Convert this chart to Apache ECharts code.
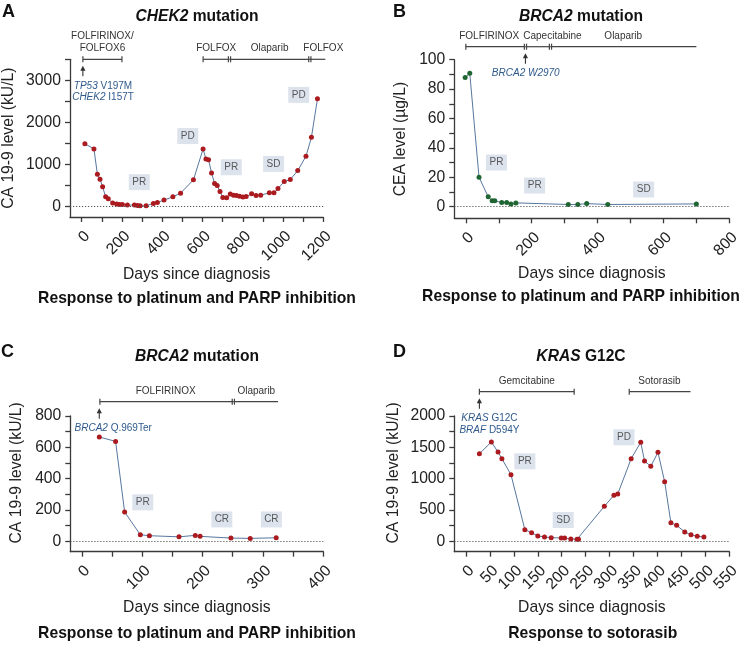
<!DOCTYPE html>
<html><head><meta charset="utf-8">
<script src="https://cdn.jsdelivr.net/npm/echarts@6/dist/echarts.min.js"></script>
<style>html,body{margin:0;padding:0;background:#fff}#c{width:742px;height:645px}</style>
</head><body><div id="c"></div>
<script>
// ---------- DATA ----------
// Panel A: CHEK2 mutation, CA 19-9 (kU/L)
const aDays = [16,61,78,91,104,119,132,154,174,187,202,227,262,277,290,320,356,376,409,453,491,555,603,617,630,645,660,673,687,701,720,738,754,769,784,801,817,844,866,889,932,955,975,1006,1036,1073,1114,1141,1171];
const aVals = [1493,1367,768,649,467,230,182,80,57,47,47,33,33,24,17,17,71,95,152,230,317,633,1367,1130,1114,799,545,498,355,213,206,294,270,261,246,223,237,301,261,270,325,325,427,592,640,853,1194,1644,2559];
const aResp = [[286,578,'PR'],[527,1675,'PD'],[743,933,'PR'],[953,1012,'SD'],[1078,2654,'PD']];
const aTreatStart = [6,603,734,1133];
const aTreatEnd = [200,734,1133,1210];
const aTreatNames = ['FOLFIRINOX/\nFOLFOX6','FOLFOX','Olaparib','FOLFOX'];
const aTreatLabelDay = [103,668,933,1200];
const aTreatStartTick = [1,1,2,2];
const aTreatEndTick = [1,0,0,0];
const aMutation = {arrowDay:6, textDay:106, text:'{i|TP53}{n| V197M}\n{i|CHEK2}{n| I157T}'};
const aXTicks = [0,100,200,300,400,500,600,700,800,900,1000,1100,1200];
const aXLabels = [0,200,400,600,800,1000,1200];
const aYTicks = [0,500,1000,1500,2000,2500,3000,3500];
const aYLabels = [0,1000,2000,3000];

// Panel B: BRCA2 mutation, CEA (ug/L)
const bDays = [-2,12,40,68,80,88,109,124,137,152,311,340,367,431,700];
const bVals = [87.8,90.7,20,6.6,3.9,3.9,2.7,2.7,1.8,2.5,1.4,1.4,2.0,1.4,1.8];
const bResp = [[93,30,'PR'],[209,14.3,'PR'],[540,11.6,'SD']];
const bTreatStart = [0,181,257];
const bTreatEnd = [181,257,700];
const bTreatNames = ['FOLFIRINOX','Capecitabine','Olaparib'];
const bTreatLabelDay = [71,263,478];
const bTreatStartTick = [1,2,2];
const bTreatEndTick = [0,0,0];
const bMutation = {arrowDay:181, textDay:182, text:'{i|BRCA2 W2970}'};
const bXTicks = [0,100,200,300,400,500,600,700,800];
const bXLabels = [0,200,400,600,800];
const bYTicks = [0,10,20,30,40,50,60,70,80,90,100];
const bYLabels = [0,20,40,60,80,100];

// Panel C: BRCA2 mutation, CA 19-9 (kU/L)
const cDays = [29,56,71,97,112,161,188,196,247,279,322];
const cVals = [666,638,187,42,36,29,38,32,21,19,23];
const cResp = [[101,249,'PR'],[232,140,'CR'],[314,140,'CR']];
const cTreatStart = [30,251];
const cTreatEnd = [251,325];
const cTreatNames = ['FOLFIRINOX','Olaparib'];
const cTreatLabelDay = [139,289];
const cTreatStartTick = [1,2];
const cTreatEndTick = [0,0];
const cMutation = {arrowDay:29, textDay:52, text:'{i|BRCA2}{n| Q.969Ter}'};
const cXTicks = [0,50,100,150,200,250,300,350,400];
const cXLabels = [0,100,200,300,400];
const cYTicks = [0,100,200,300,400,500,600,700,800];
const cYLabels = [0,200,400,600,800];

// Panel D: KRAS G12C, CA 19-9 (kU/L)
const dDays = [28,53,67,75,94,123,137,150,164,178,199,206,219,232,235,289,309,317,345,365,373,386,401,415,428,440,457,470,483,497];
const dVals = [1398,1584,1425,1318,1063,186,138,85,69,58,53,53,37,32,32,558,734,755,1318,1580,1281,1197,1420,951,297,255,148,105,80,69];
const dResp = [[123,1276,'PR'],[203,340,'SD'],[330,1660,'PD']];
const dTreatStart = [28,341];
const dTreatEnd = [226,469];
const dTreatNames = ['Gemcitabine','Sotorasib'];
const dTreatLabelDay = [127,404];
const dTreatStartTick = [1,1];
const dTreatEndTick = [1,0];
const dMutation = {arrowDay:28, textDay:49, text:'{i|KRAS}{n| G12C}\n{i|BRAF}{n| D594Y}'};
const dXTicks = [0,50,100,150,200,250,300,350,400,450,500,550];
const dXLabels = [0,50,100,150,200,250,300,350,400,450,500,550];
const dYTicks = [0,250,500,750,1000,1250,1500,1750,2000];
const dYLabels = [0,500,1000,1500,2000];

// ---------- STYLE / LAYOUT ----------
const FF = '"Liberation Sans", Arial, Helvetica, sans-serif';
const AX = '#3a3a3a';
const TXT = '#222';
const LINEC = '#56779f';
const RED = '#aa1a1e';
const GREEN = '#1e6532';
const BLUE = '#2e5a8c';
const BOX = '#d4dce7';

const panels = [
  {grid:{left:70, top:59.3, width:253.3, height:157.7}, xmin:-58, xmax:1200, ymin:-250, ymax:3500, barOff:0,
   days:aDays, vals:aVals, resp:aResp, color:RED, yName:'CA 19-9 level (kU/L)', yGap:53, yPad:0,
   xT:aXTicks, xL:aXLabels, yT:aYTicks, yL:aYLabels,
   T:{start:aTreatStart,end:aTreatEnd,names:aTreatNames,labelDay:aTreatLabelDay,st:aTreatStartTick,et:aTreatEndTick}, M:aMutation},
  {grid:{left:454.3, top:59.7, width:275, height:158.6}, xmin:-35, xmax:800, ymin:-8, ymax:100, barOff:13,
   days:bDays, vals:bVals, resp:bResp, color:GREEN, yName:'CEA level (µg/L)', yGap:46, yPad:0,
   xT:bXTicks, xL:bXLabels, yT:bYTicks, yL:bYLabels,
   T:{start:bTreatStart,end:bTreatEnd,names:bTreatNames,labelDay:bTreatLabelDay,st:bTreatStartTick,et:bTreatEndTick}, M:bMutation},
  {grid:{left:70.3, top:416, width:253, height:135.7}, xmin:-19, xmax:400, ymin:-66, ymax:800, barOff:14.3,
   days:cDays, vals:cVals, resp:cResp, color:RED, yName:'CA 19-9 level (kU/L)', yGap:46, yPad:22,
   xT:cXTicks, xL:cXLabels, yT:cYTicks, yL:cYLabels,
   T:{start:cTreatStart,end:cTreatEnd,names:cTreatNames,labelDay:cTreatLabelDay,st:cTreatStartTick,et:cTreatEndTick}, M:cMutation},
  {grid:{left:454.3, top:416, width:275, height:135.7}, xmin:-24.4, xmax:550, ymin:-166, ymax:2000, barOff:24.3,
   days:dDays, vals:dVals, resp:dResp, color:RED, yName:'CA 19-9 level (kU/L)', yGap:53, yPad:22,
   xT:dXTicks, xL:dXLabels, yT:dYTicks, yL:dYLabels,
   T:{start:dTreatStart,end:dTreatEnd,names:dTreatNames,labelDay:dTreatLabelDay,st:dTreatStartTick,et:dTreatEndTick}, M:dMutation}
];

const grids = [], xAxes = [], yAxes = [], series = [];
const plainNum = v => String(v);

panels.forEach((p, i) => {
  grids.push(Object.assign({outerBoundsMode:'none', containLabel:false}, p.grid));
  xAxes.push({
    type:'value', gridIndex:i, min:p.xmin, max:p.xmax,
    name:'Days since diagnosis', nameLocation:'middle', nameGap:47.5,
    nameTextStyle:{fontSize:15.7, color:TXT, fontFamily:FF},
    axisLine:{show:true, onZero:false, lineStyle:{color:AX, width:1.3}},
    axisTick:{show:true, length:5, customValues:p.xT, lineStyle:{color:AX, width:1.3}},
    axisLabel:{show:true, rotate:45, margin:11, verticalAlign:'top', customValues:p.xL, formatter:plainNum, fontSize:15.7, color:TXT, fontFamily:FF},
    splitLine:{show:false}, minorTick:{show:false}
  });
  yAxes.push({
    type:'value', gridIndex:i, min:p.ymin, max:p.ymax,
    name:p.yName, nameLocation:'middle', nameGap:p.yGap, nameRotate:90,
    nameTextStyle:{fontSize:15.7, color:TXT, fontFamily:FF, padding:[0,0,0,p.yPad]},
    axisLine:{show:true, onZero:false, lineStyle:{color:AX, width:1.3}},
    axisTick:{show:true, length:5, customValues:p.yT, lineStyle:{color:AX, width:1.3}},
    axisLabel:{show:true, margin:9, customValues:p.yL, formatter:plainNum, fontSize:15.7, color:TXT, fontFamily:FF},
    splitLine:{show:false}
  });
  // data line
  series.push({
    type:'line', xAxisIndex:i, yAxisIndex:i, z:4,
    data:p.days.map((d,k)=>[d, p.vals[k]]),
    symbol:'circle', symbolSize:5, showSymbol:true,
    itemStyle:{color:p.color, borderWidth:0},
    lineStyle:{color:LINEC, width:1},
    markLine:{silent:true, symbol:['none','none'], label:{show:false},
      lineStyle:{type:[1.2,1.8], color:'#555', width:1}, data:[{yAxis:0}], animation:false}
  });
  // response boxes
  series.push({
    type:'scatter', xAxisIndex:i, yAxisIndex:i, z:3,
    data:p.resp.map(r=>[r[0], r[1], r[2]]),
    symbol:'rect', symbolSize:[21,16],
    itemStyle:{color:BOX},
    label:{show:true, position:'inside', formatter:q=>q.data[2], fontSize:10, color:'#333', fontFamily:FF}
  });
  // treatment bars
  const T = p.T;
  series.push({
    type:'custom', xAxisIndex:i, yAxisIndex:i, clip:false, silent:true, z:6,
    data:T.start.map(s=>[s, 0]), encode:{x:0, y:1},
    renderItem:function(params, api){
      const k = params.dataIndex;
      const y = params.coordSys.y - p.barOff;
      const x1 = api.coord([T.start[k], 0])[0];
      const x2 = api.coord([T.end[k], 0])[0];
      const st = {stroke:'#444', lineWidth:1.2};
      const ch = [{type:'line', shape:{x1:x1, y1:y, x2:x2, y2:y}, style:st}];
      const tick = (x, kind) => {
        if (kind === 1) ch.push({type:'line', shape:{x1:x, y1:y-3, x2:x, y2:y+3}, style:st});
        if (kind === 2) {
          ch.push({type:'line', shape:{x1:x-1.1, y1:y-3, x2:x-1.1, y2:y+3}, style:st});
          ch.push({type:'line', shape:{x1:x+1.1, y1:y-3, x2:x+1.1, y2:y+3}, style:st});
        }
      };
      tick(x1, T.st[k]);
      tick(x2, T.et[k]);
      const lx = api.coord([T.labelDay[k], 0])[0];
      ch.push({type:'text', x:lx, y:y-4.5, style:{text:T.names[k], fill:'#333', fontSize:10, fontFamily:FF,
        align:'center', verticalAlign:'bottom', textAlign:'center', textVerticalAlign:'bottom', lineHeight:12.5}});
      return {type:'group', children:ch};
    }
  });
  // mutation arrow + text
  const M = p.M;
  series.push({
    type:'custom', xAxisIndex:i, yAxisIndex:i, clip:false, silent:true, z:6,
    data:[[M.arrowDay, 0]], encode:{x:0, y:1},
    renderItem:function(params, api){
      const y = params.coordSys.y - p.barOff;
      const xa = api.coord([M.arrowDay, 0])[0];
      const xt = api.coord([M.textDay, 0])[0];
      return {type:'group', children:[
        {type:'line', shape:{x1:xa, y1:y+17, x2:xa, y2:y+9}, style:{stroke:'#333', lineWidth:1.1}},
        {type:'polygon', shape:{points:[[xa-2.6,y+11.5],[xa,y+6.5],[xa+2.6,y+11.5]]}, style:{fill:'#333'}},
        {type:'text', x:xt, y:y+21, style:{text:M.text, fill:BLUE, fontSize:10, fontFamily:FF,
          align:'center', verticalAlign:'top', textAlign:'center', textVerticalAlign:'top', lineHeight:11.5,
          rich:{i:{fontStyle:'italic', fill:BLUE, fontSize:10, fontFamily:FF, lineHeight:11.5},
                n:{fill:BLUE, fontSize:10, fontFamily:FF, lineHeight:11.5}}}}
      ]};
    }
  });
});

// ---------- static text ----------
function titleText(x, y, it, rest){
  return {type:'text', x:x, y:y, silent:true, style:{
    text:'{i|'+it+'}{b|'+rest+'}', align:'center', verticalAlign:'middle', textAlign:'center', textVerticalAlign:'middle',
    rich:{i:{fontStyle:'italic', fontWeight:'bold', fontSize:15.6, fontFamily:FF, fill:'#111'},
          b:{fontWeight:'bold', fontSize:15.6, fontFamily:FF, fill:'#111'}}}};
}
function plain(x, y, t, size, bold){
  return {type:'text', x:x, y:y, silent:true, style:{text:t, fontSize:size, fontWeight:bold?'bold':'normal', fontFamily:FF, fill:'#111',
    align:'center', verticalAlign:'middle', textAlign:'center', textVerticalAlign:'middle'}};
}
const graphics = [
  plain(8.5, 12, 'A', 18, true), plain(399.5, 12, 'B', 18, true),
  plain(7.5, 351.7, 'C', 18, true), plain(399.5, 351.7, 'D', 18, true),
  titleText(197, 16.7, 'CHEK2', ' mutation'),
  titleText(581, 16.7, 'BRCA2', ' mutation'),
  titleText(197, 356.7, 'BRCA2', ' mutation'),
  titleText(581, 356.7, 'KRAS', ' G12C'),
  plain(197, 299, 'Response to platinum and PARP inhibition', 15.7, true),
  plain(581, 297, 'Response to platinum and PARP inhibition', 15.7, true),
  plain(197, 633.3, 'Response to platinum and PARP inhibition', 15.7, true),
  plain(592.7, 633.3, 'Response to sotorasib', 15.7, true)
];

const chart = echarts.init(document.getElementById('c'), null, {renderer:'canvas'});
chart.setOption({
  animation:false, backgroundColor:'#fff',
  grid:grids, xAxis:xAxes, yAxis:yAxes, series:series, graphic:graphics
});
</script></body></html>
